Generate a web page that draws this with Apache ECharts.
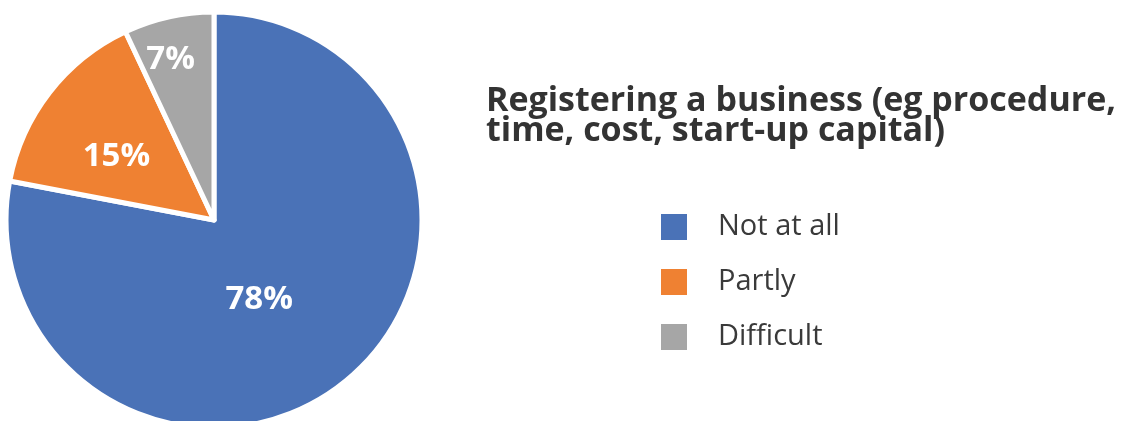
<!DOCTYPE html>
<html>
<head>
<meta charset="utf-8">
<style>
  html, body { margin: 0; padding: 0; background: #ffffff; }
  #chart { width: 1133px; height: 421px; }
</style>
<script src="https://cdn.jsdelivr.net/npm/echarts@6/dist/echarts.min.js"></script>
</head>
<body>
<div id="chart"></div>
<script>
// Survey answers: how much of an obstacle registering a business is
const categories = ['Not at all', 'Partly', 'Difficult'];
const shares = [78, 15, 7];
const sliceColors = ['#4a72b7', '#ef8132', '#a6a6a6'];
// nudges that move each percentage label to its spot inside the slice
const labelOffsets = [[-23, -3], [-13, 2], [-20, -56]];

const titleText = 'Registering a business (eg procedure,\ntime, cost, start-up capital)';

const chart = echarts.init(document.getElementById('chart'), null, { renderer: 'canvas' });

const pieData = categories.map((name, i) => ({
  name: name,
  value: shares[i],
  itemStyle: { color: sliceColors[i] },
  label: { offset: labelOffsets[i] }
}));

chart.setOption({
  backgroundColor: '#ffffff',
  animation: false,
  title: {
    text: titleText,
    left: 486,
    top: 86,
    padding: 0,
    textStyle: {
      fontFamily: 'Open Sans',
      fontSize: 34,
      fontWeight: 'bold',
      lineHeight: 30,
      color: '#333333'
    }
  },
  legend: {
    orient: 'vertical',
    left: 659,
    top: 212,
    padding: 0,
    icon: 'rect',
    itemWidth: 28,
    itemHeight: 28,
    itemGap: 25,
    data: categories,
    textStyle: {
      fontFamily: 'Open Sans',
      fontSize: 29,
      lineHeight: 28,
      color: '#3a3a3a',
      padding: [0, 0, 0, 25]
    }
  },
  series: [{
    type: 'pie',
    center: [214, 220],
    radius: 208,
    startAngle: 90,
    clockwise: true,
    avoidLabelOverlap: false,
    itemStyle: { borderColor: '#ffffff', borderWidth: 5 },
    label: {
      show: true,
      position: 'inside',
      formatter: '{c}%',
      fontFamily: 'Open Sans',
      fontSize: 33,
      fontWeight: 'bold',
      color: '#ffffff'
    },
    labelLine: { show: false },
    emphasis: { disabled: true },
    data: pieData
  }]
});
</script>
</body>
</html>
